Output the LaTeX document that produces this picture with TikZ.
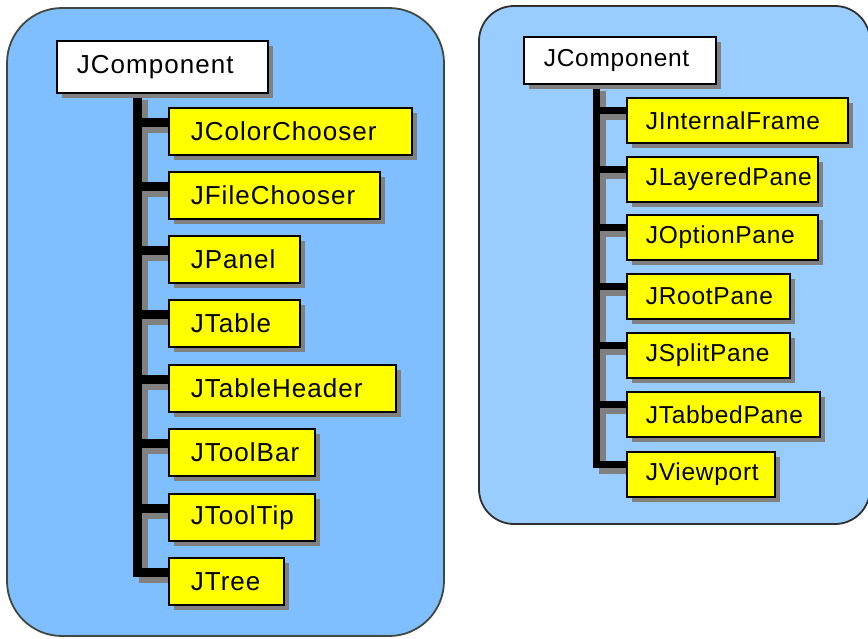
\documentclass[tikz,border=0pt]{standalone}
\usepackage{fontspec}
\setmainfont{Liberation Sans}
\newfontfamily\leftfam[LetterSpace=4]{Liberation Sans}
\newfontfamily\rightfam[LetterSpace=3]{Liberation Sans}
\newcommand\leftfnt{\leftfam\fontsize{26pt}{30pt}\selectfont}
\newcommand\rightfnt{\rightfam\fontsize{24.5pt}{28pt}\selectfont}
\usetikzlibrary{shadows}
\definecolor{lblue}{HTML}{80BFFF}
\definecolor{rblue}{HTML}{99CCFF}
\definecolor{jyellow}{HTML}{FFFF00}
\definecolor{shgray}{HTML}{808080}
\definecolor{lborder}{HTML}{404840}
\definecolor{rborder}{HTML}{303030}
\pgfdeclarelayer{back}
\pgfdeclarelayer{mid}
\pgfsetlayers{back,mid,main}
\tikzset{
  boxbase/.style={draw=black, line width=1.6pt, anchor=north west, inner xsep=0pt, inner ysep=0pt,
    align=left, drop shadow={shadow xshift=5pt, shadow yshift=-5pt, fill=shgray, opacity=1}},
  lroot/.style={boxbase, fill=white, minimum height=52pt, font=\leftfnt, execute at begin node={\hspace*{20pt}}},
  rroot/.style={boxbase, fill=white, minimum height=47pt, font=\rightfnt, execute at begin node={\hspace*{20pt}}},
  lcls/.style={boxbase, fill=jyellow, minimum height=47pt, font=\leftfnt, execute at begin node={\hspace*{22pt}}},
  rcls/.style={boxbase, fill=jyellow, minimum height=45pt, font=\rightfnt, execute at begin node={\hspace*{19pt}}},
  lpanel/.style={draw=lborder, line width=1.8pt, fill=lblue, rounded corners=55pt},
  rpanel/.style={draw=rborder, line width=1.8pt, fill=rblue, rounded corners=35pt},
  ltree/.style={draw=black, line width=9pt},
  rtree/.style={draw=black, line width=7pt},
  ltreesh/.style={draw=shgray, line width=9pt, transform canvas={xshift=6pt, yshift=-6pt}},
  rtreesh/.style={draw=shgray, line width=7pt, transform canvas={xshift=6pt, yshift=-6pt}}
}
\begin{document}
\begin{tikzpicture}[x=1pt, y=-1pt]
\useasboundingbox (0,0) rectangle (868,638);
\begin{pgfonlayer}{back}
  \draw[lpanel] (7,8) rectangle (444,636);
  \draw[rpanel] (479,6) rectangle (870,524);
\end{pgfonlayer}

% left hierarchy
\node[lroot, text width=211pt] (ljc) at (56,40) {JComponent};
\node[lcls, text width=243pt] (l1) at (168,107) {JColorChooser};
\node[lcls, text width=211pt] (l2) at (168,171) {JFileChooser};
\node[lcls, text width=131pt] (l3) at (168,235) {JPanel};
\node[lcls, text width=131pt] (l4) at (168,299) {JTable};
\node[lcls, text width=227pt] (l5) at (168,364) {JTableHeader};
\node[lcls, text width=146pt] (l6) at (168,428) {JToolBar};
\node[lcls, text width=146pt] (l7) at (168,493) {JToolTip};
\node[lcls, text width=115pt] (l8) at (168,557) {JTree};
\coordinate (LT) at (137,0);

% right hierarchy
\node[rroot, text width=192pt] (rjc) at (523,36) {JComponent};
\node[rcls, text width=221pt] (r1) at (626,97) {JInternalFrame};
\node[rcls, text width=191pt] (r2) at (626,156) {JLayeredPane};
\node[rcls, text width=191pt] (r3) at (626,214) {JOptionPane};
\node[rcls, text width=163pt] (r4) at (626,273) {JRootPane};
\node[rcls, text width=163pt] (r5) at (626,332) {JSplitPane};
\node[rcls, text width=193pt] (r6) at (626,391) {JTabbedPane};
\node[rcls, text width=148pt] (r7) at (626,451) {JViewport};
\coordinate (RT) at (596,0);

\begin{pgfonlayer}{mid}
  \foreach \c in {l1,l2,l3,l4,l5,l6,l7,l8}
    \draw[ltreesh] (ljc.south -| LT) |- ([yshift=9pt]\c.west);
  \foreach \c in {r1,r2,r3,r4,r5,r6,r7}
    \draw[rtreesh] (rjc.south -| RT) |- ([yshift=10pt]\c.west);
  \foreach \c in {l1,l2,l3,l4,l5,l6,l7,l8}
    \draw[ltree] (ljc.south -| LT) |- ([yshift=9pt]\c.west);
  \foreach \c in {r1,r2,r3,r4,r5,r6,r7}
    \draw[rtree] (rjc.south -| RT) |- ([yshift=10pt]\c.west);
\end{pgfonlayer}
\end{tikzpicture}
\end{document}
